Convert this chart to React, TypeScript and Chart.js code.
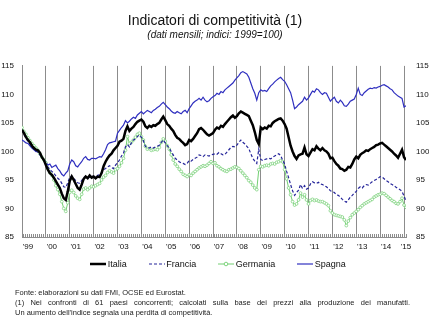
import React, { useEffect, useRef } from 'react';
import { Chart, registerables } from 'chart.js';

Chart.register(...registerables);

const chartTitle = 'Indicatori di competitività (1)';
const chartSubtitle = '(dati mensili; indici: 1999=100)';
const seriesNames = ['Italia', 'Francia', 'Germania', 'Spagna'];
const yearLabels = ["'99", "'00", "'01", "'02", "'03", "'04", "'05", "'06", "'07", "'08", "'09", "'10", "'11", "'12", "'13", "'14", "'15"];
const yTicks = [85, 90, 95, 100, 105, 110, 115];
const footnotes = [
  'Fonte: elaborazioni su dati FMI, OCSE ed Eurostat.',
  '(1) Nei confronti di 61 paesi concorrenti; calcolati sulla base dei prezzi alla produzione dei manufatti.',
  "Un aumento dell'indice segnala una perdita di competitività.",
];

// monthly values, Jan 1999 - Feb 2015
const italia = [
  103.8, 103.2, 102.5, 102.0, 101.6, 101.0, 100.6, 100.3, 100.2, 99.8, 99.0, 98.5,
  97.6, 96.8, 96.2, 95.9, 95.4, 94.8, 94.2, 93.6, 92.6, 91.8, 91.5, 93.0,
  94.8, 95.6, 95.0, 94.3, 93.6, 93.3, 94.2, 95.2, 95.6, 95.3, 95.8, 95.4,
  95.6, 95.3, 95.6, 95.5, 96.2, 97.4, 98.2, 98.8, 99.3, 99.6, 100.2, 100.6,
  101.0, 101.7, 101.9, 102.2, 103.6, 104.4, 103.6, 104.0, 104.3, 104.8, 105.2, 105.4,
  105.6, 105.2, 104.4, 104.1, 104.5, 104.3, 104.6, 104.5, 104.8, 105.0, 105.6, 106.1,
  105.5, 104.8, 104.5, 104.0, 103.6, 102.9, 102.4, 102.2, 101.8, 101.5, 101.1, 101.3,
  102.0, 101.8, 102.2, 102.7, 103.2, 103.9, 104.1, 103.8, 103.4, 103.0, 102.8, 103.0,
  103.2, 103.8, 104.2, 104.0, 104.5, 104.3, 104.8, 105.2, 105.6, 106.0, 106.3, 105.9,
  106.2, 106.7, 107.0, 106.8, 106.6, 106.4, 106.2, 105.4, 104.6, 103.4, 102.0, 101.3,
  104.2, 103.9, 104.2, 104.0, 104.5, 104.4, 105.0, 105.3, 105.5, 105.7, 105.8, 105.4,
  104.8, 104.0, 102.5, 101.0, 100.0, 99.2, 98.7, 99.3, 99.5, 99.6, 100.7, 99.5,
  99.2, 99.8, 100.4, 100.2, 100.9, 100.5, 100.2, 100.6, 100.2, 100.0, 99.6, 98.8,
  98.9, 98.3, 97.8, 97.5, 97.0, 96.9, 96.6, 96.8, 97.3, 97.2, 97.8, 98.6,
  99.1, 98.8, 99.4, 99.7, 99.9, 100.2, 100.1, 100.4, 100.6, 100.8, 101.1, 101.2,
  101.4, 101.5, 101.2, 100.9, 100.6, 100.3, 100.0, 99.6, 99.3, 98.9, 99.6, 100.3,
  99.0, 98.5,
];

const francia = [
  103.8, 103.0, 102.3, 101.8, 101.3, 100.9, 100.4, 100.1, 99.8, 99.4, 98.9, 98.4,
  97.9, 97.3, 96.8, 96.5, 96.2, 95.7, 95.3, 95.0, 94.4, 93.8, 93.7, 94.5,
  95.5, 95.7, 95.2, 94.9, 94.5, 94.4, 94.9, 95.4, 95.6, 95.3, 95.5, 95.7,
  95.6, 95.5, 95.8, 95.9, 96.3, 96.8, 97.0, 97.3, 97.5, 97.2, 97.0, 97.6,
  98.0, 98.5, 99.2, 99.7, 100.8, 101.2, 100.8, 101.5, 102.0, 102.2, 102.6, 102.9,
  102.5, 101.9, 100.9, 100.7, 100.6, 100.8, 100.6, 100.8, 100.9, 101.1, 101.6, 102.0,
  101.5, 101.0, 100.6, 100.0, 99.4, 98.8, 98.5, 98.2, 98.0, 97.9, 97.7, 97.9,
  98.4, 98.3, 98.6, 98.8, 99.0, 99.4, 99.3, 99.1, 99.4, 99.3, 99.2, 99.4,
  99.5, 99.6, 99.5, 99.8, 99.6, 99.4, 99.5, 99.9, 100.3, 100.7, 100.9, 100.8,
  101.1, 101.6, 102.0, 101.6, 101.3, 100.9, 100.5, 99.6, 98.8, 98.3, 97.9, 100.4,
  98.6, 98.4, 98.6, 98.7, 98.8, 98.7, 99.0, 99.2, 99.4, 99.6, 99.3, 98.5,
  97.8, 96.5, 95.4, 94.2, 93.1, 92.3, 92.8, 93.2, 94.2, 93.5, 94.0, 93.4,
  93.6, 94.3, 94.7, 94.5, 94.4, 94.6, 94.3, 94.2, 94.0, 93.8, 93.5, 93.1,
  93.0, 92.8, 92.4, 92.3, 92.0, 91.6, 91.3, 91.1, 91.5, 92.0, 92.3, 92.7,
  93.0, 93.5, 93.8, 93.6, 94.0, 94.2, 94.1, 94.4, 94.7, 94.9, 95.1, 95.3,
  95.6, 95.5, 95.2, 94.9, 94.7, 94.4, 94.2, 94.0, 93.7, 93.5, 93.3, 93.0,
  92.2, 91.3,
];

const germania = [
  104.2, 103.5, 103.0, 102.4, 101.9, 101.4, 101.0, 100.6, 100.2, 99.6, 99.0, 98.5,
  98.0, 97.0, 96.3, 95.8, 95.0, 94.0, 93.3, 92.5, 91.2, 90.0, 89.5, 91.0,
  92.8, 93.2, 92.8, 92.2, 91.8, 91.6, 92.5, 93.4, 93.6, 93.3, 93.6, 93.9,
  93.8, 94.0, 94.2, 94.4, 95.0, 95.5, 95.8, 96.3, 96.6, 96.4, 96.2, 96.8,
  97.0, 97.4, 98.0, 98.8, 100.2, 102.6, 101.4, 101.6, 102.0, 102.5, 103.0, 103.2,
  102.6, 102.0, 100.9, 100.4, 100.5, 100.2, 100.3, 100.4, 100.3, 100.7, 101.6, 102.2,
  101.8, 101.0, 100.4, 99.4, 98.5, 97.8, 97.4, 96.9, 96.5, 96.0, 95.8, 95.6,
  95.9, 95.8, 96.2, 96.5, 96.8, 97.1, 97.3, 97.5, 97.4, 97.6, 97.9, 98.2,
  97.9, 98.0, 97.5, 97.3, 97.0, 96.8, 96.6, 96.5, 96.8, 96.9, 97.1, 97.3,
  97.2, 97.0, 96.6, 96.2, 95.8, 95.4, 94.9, 94.6, 94.1, 93.6, 93.3, 96.8,
  97.4, 97.3, 97.5, 97.6, 97.5, 97.8, 97.9, 97.8, 98.1, 98.2, 98.4, 98.2,
  96.8, 95.2, 93.6, 92.4, 91.2, 90.6, 90.8, 91.5, 92.7, 92.0, 92.4, 91.5,
  90.8, 91.4, 91.6, 91.4, 91.5, 91.3, 91.2, 91.2, 91.0, 90.8, 90.5, 89.6,
  89.2, 88.9, 88.8, 88.7, 88.6, 88.5, 88.0, 87.0, 87.8, 88.4, 88.9, 89.2,
  89.5, 89.8, 90.2, 90.5, 90.8, 91.0, 91.2, 91.4, 91.6, 92.0, 92.2, 92.4,
  92.5, 92.7, 92.6, 92.3, 92.0, 91.7, 91.4, 91.2, 90.9, 90.8, 91.2, 91.8,
  90.6, 90.2,
];

const spagna = [
  102.0, 101.8, 101.5, 101.4, 101.0, 100.6, 100.3, 100.0, 100.2, 99.6, 99.0, 98.6,
  98.2, 97.6, 97.8, 97.2, 97.4, 97.6, 97.0, 96.6, 96.0, 95.7, 96.2, 96.6,
  97.8, 98.5, 98.2, 97.5, 97.3, 97.8, 98.2, 98.8, 99.1, 98.6, 98.5, 98.8,
  98.8, 98.7, 98.9, 99.1, 99.0, 99.6, 100.3, 101.2, 101.5, 101.6, 101.7, 101.8,
  103.2, 103.7, 104.2, 104.6, 105.4, 105.0, 105.3, 105.7, 106.0, 105.8, 106.4, 106.7,
  107.0, 106.6, 106.9, 107.2, 107.0, 106.8, 107.2, 107.4, 107.7, 107.9, 108.3, 108.6,
  108.2, 107.8, 107.5, 107.1, 106.8, 106.7, 107.0, 106.8, 106.6, 107.0, 107.2, 106.8,
  107.5, 108.0, 108.5, 108.8, 109.0, 109.3, 109.0, 109.5, 109.0, 108.7, 108.9, 109.3,
  109.6, 109.8, 110.2, 110.0, 110.5, 110.3, 110.8, 111.1, 111.4, 111.7, 112.0, 112.5,
  112.9, 113.3, 113.8, 114.0, 113.8, 113.6, 113.0, 112.0, 111.0, 110.2, 109.0, 110.3,
  110.8, 110.6, 110.7, 110.5, 111.0, 111.5, 111.8, 112.2, 112.5, 112.8, 113.0, 112.6,
  112.3, 111.7, 111.0, 110.3, 109.0, 107.5, 107.8, 108.2, 108.5, 108.8, 109.5, 109.0,
  109.4, 110.0, 110.6, 110.4, 111.0, 110.8, 110.3, 110.0, 110.3, 110.2, 109.5, 108.8,
  109.2, 109.5, 108.8, 108.5, 109.0, 108.6, 108.0, 107.9, 108.3, 108.8, 109.0, 109.2,
  110.0, 111.1, 110.0, 109.8, 110.3, 110.6, 110.9, 111.1, 111.0, 111.2, 111.1, 111.3,
  111.4, 111.6, 111.7, 111.5, 111.3, 111.0, 110.8, 110.3, 110.0, 109.7, 109.5, 109.3,
  107.8, 108.0,
];

const seriesData = [italia, francia, germania, spagna];
const seriesColors = ['#000000', '#25259a', '#72cf72', '#2f2fbf'];
const seriesWidths = [2.5, 1.2, 1, 1.2];

const FONT = "'Liberation Sans', Arial, Helvetica, sans-serif";
const GRID = '#8c8c8c';

function LegendIcon({ i }: { i: number }) {
  const c = seriesColors[i];
  return (
    <svg width={16} height={8} style={{ display: 'block' }}>
      <line
        x1={0}
        y1={4}
        x2={16}
        y2={4}
        stroke={c}
        strokeWidth={seriesWidths[i]}
        strokeDasharray={i === 1 ? '3 2' : undefined}
      />
      {i === 2 ? <circle cx={8} cy={4} r={1.8} fill="#fff" stroke={c} strokeWidth={0.9} /> : null}
    </svg>
  );
}

export default function App() {
  const canvasRef = useRef<HTMLCanvasElement | null>(null);

  useEffect(() => {
    const canvas = canvasRef.current;
    if (!canvas) return;
    Chart.defaults.font.family = FONT;
    const lastIndex = italia.length - 1;
    const monthIndex = italia.map((_, i) => i);
    const yearTickMonth = (k: number) => Math.min(k * 12 + 3, lastIndex);

    const chart = new Chart(canvas, {
      type: 'line',
      data: {
        labels: monthIndex,
        datasets: seriesNames.map((name, i) => ({
          label: name,
          data: seriesData[i],
          borderColor: seriesColors[i],
          backgroundColor: seriesColors[i],
          borderWidth: seriesWidths[i],
          borderDash: i === 1 ? [3, 2] : [],
          pointRadius: i === 2 ? 1.4 : 0,
          pointStyle: 'circle',
          pointBackgroundColor: '#ffffff',
          pointBorderColor: seriesColors[i],
          pointBorderWidth: 0.7,
          tension: 0,
          fill: false,
        })),
      },
      options: {
        animation: false,
        responsive: false,
        events: [],
        layout: { padding: { left: 1, right: 7, top: 0, bottom: 8 } },
        plugins: {
          legend: { display: false },
          tooltip: { enabled: false },
          title: {
            display: true,
            text: chartTitle,
            color: '#111',
            font: { size: 14, weight: 'normal', family: FONT },
            padding: { top: 12.6, bottom: 0 },
          },
          subtitle: {
            display: true,
            text: chartSubtitle,
            color: '#111',
            font: { size: 10, style: 'italic', family: FONT },
            padding: { top: 0, bottom: 24.5 },
          },
        },
        scales: {
          x: {
            type: 'linear',
            min: 0,
            max: lastIndex,
            afterBuildTicks: (s: any) => {
              s.ticks = monthIndex.map((v) => ({ value: v }));
            },
            afterFit: (s: any) => {
              s.height = 15;
            },
            grid: {
              display: true,
              drawOnChartArea: true,
              drawTicks: true,
              tickLength: -3,
              color: (c: any) => (c.tick && c.tick.value % 12 === 0 ? GRID : 'rgba(0,0,0,0)'),
              tickColor: GRID,
              lineWidth: 1,
            },
            border: { display: true, color: GRID },
            ticks: {
              autoSkip: false,
              maxRotation: 0,
              minRotation: 0,
              padding: 8,
              color: '#111',
              font: { size: 8, family: FONT },
              callback: (value: any) => {
                const k = yearLabels.findIndex((_, i) => yearTickMonth(i) === value);
                return k >= 0 ? yearLabels[k] : '';
              },
            },
          },
          y: {
            position: 'left',
            min: 85,
            max: 115,
            afterBuildTicks: (s: any) => {
              s.ticks = yTicks.map((v) => ({ value: v }));
            },
            afterFit: (s: any) => {
              s.width = 21;
            },
            grid: { display: false, drawTicks: false },
            border: { display: true, color: GRID },
            ticks: { padding: 8, color: '#111', font: { size: 8, family: FONT } },
          },
          y2: {
            position: 'right',
            min: 85,
            max: 115,
            afterBuildTicks: (s: any) => {
              s.ticks = yTicks.map((v) => ({ value: v }));
            },
            afterFit: (s: any) => {
              s.width = 23;
            },
            grid: { display: false, drawTicks: false },
            border: { display: false },
            ticks: { padding: 10, color: '#111', font: { size: 8, family: FONT } },
          },
        },
      },
    } as any);

    return () => chart.destroy();
  }, []);

  return (
    <div
      style={{
        position: 'fixed',
        left: 0,
        top: 0,
        width: 436,
        height: 336,
        background: '#fff',
        fontFamily: FONT,
        color: '#111',
        overflow: 'hidden',
      }}
    >
      <canvas ref={canvasRef} width={436} height={260} style={{ position: 'absolute', left: 0, top: 0 }} />
      <div
        style={{
          position: 'absolute',
          left: 0,
          top: 258,
          width: 436,
          height: 12,
          display: 'flex',
          justifyContent: 'center',
          alignItems: 'center',
          gap: 22,
          fontSize: 9,
        }}
      >
        {seriesNames.map((n, i) => (
          <div key={n} style={{ display: 'flex', alignItems: 'center', gap: 1.5 }}>
            <LegendIcon i={i} />
            <span style={{ lineHeight: '12px' }}>{n}</span>
          </div>
        ))}
      </div>
      <div style={{ position: 'absolute', left: 15, top: 287.5, width: 395, fontSize: 7.5, lineHeight: '10.3px', color: '#222' }}>
        <div>{footnotes[0]}</div>
        <div style={{ textAlign: 'justify', textAlignLast: 'justify' }}>{footnotes[1]}</div>
        <div>{footnotes[2]}</div>
      </div>
    </div>
  );
}
